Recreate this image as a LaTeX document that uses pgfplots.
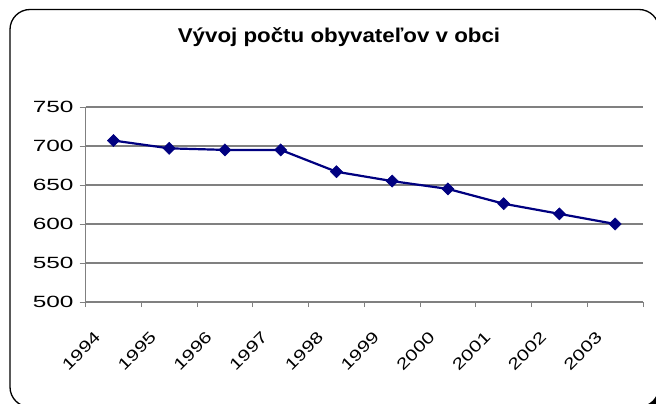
\documentclass[border=0pt]{standalone}
\usepackage{pgfplots}
\pgfplotsset{compat=1.18}
\usepackage{graphicx}
\usepackage{fontspec}
\setmainfont{Liberation Sans}
\newfontfamily\titlefont[FakeStretch=1.12]{Liberation Sans}
\newfontfamily\yfont[FakeStretch=1.5]{Liberation Sans}
\newcommand{\xl}[1]{\scalebox{1.3}[1]{#1}}
\definecolor{navy}{RGB}{0,0,128}
\definecolor{gridgray}{RGB}{128,128,128}
\begin{document}
\begin{tikzpicture}[x=1bp,y=1bp]
\useasboundingbox (0,0) rectangle (656,403);
\begin{scope}
\clip (0,0) rectangle (656,403);
\fill[black, rounded corners=20bp] (15,-9) rectangle (663,389.5);
\draw[black, line width=1.3bp, fill=white, rounded corners=20bp] (10,-4) rectangle (659,393.5);
\end{scope}
\begin{axis}[
  at={(85.6bp,101bp)}, anchor=south west,
  scale only axis, width=557.4bp, height=195bp,
  xmin=-0.5, xmax=9.5, ymin=500, ymax=750,
  ytick={500,550,...,750},
  xtick={0,...,9},
  xticklabels={\xl{1994},\xl{1995},\xl{1996},\xl{1997},\xl{1998},\xl{1999},\xl{2000},\xl{2001},\xl{2002},\xl{2003}},
  minor xtick={-0.5,0.5,...,9.5},
  major x tick style={draw=none},
  tick align=outside,
  major tick length=6bp, minor tick length=5bp,
  tick style={gridgray, line width=1bp},
  ymajorgrids, major grid style={gridgray, line width=1.3bp},
  axis x line*=bottom, axis y line*=left,
  axis line style={gridgray, line width=1.3bp, -},
  /pgf/number format/assume math mode=true,
  /pgf/number format/1000 sep={},
  yticklabel style={font=\yfont\fontsize{16.3}{16.3}\selectfont, anchor=east, inner sep=0pt, xshift=-6bp},
  xticklabel style={font=\fontsize{16}{16}\selectfont, inner sep=0pt, xshift=-20bp, yshift=-22.5bp, rotate=45, anchor=north east},
  clip=false,
]
\addplot[navy, line width=2.2bp, mark=square*, mark size=4.3bp, mark options={rotate=45, fill=navy, draw=navy, line width=0.5bp}]
  coordinates {(0,707) (1,697) (2,695) (3,695) (4,667) (5,655) (6,645) (7,626) (8,613) (9,600)};
\end{axis}
\node[font=\titlefont\bfseries\fontsize{20}{20}\selectfont, anchor=center] at (339,365.5) {Vývoj počtu obyvateľov v obci};
\end{tikzpicture}
\end{document}
